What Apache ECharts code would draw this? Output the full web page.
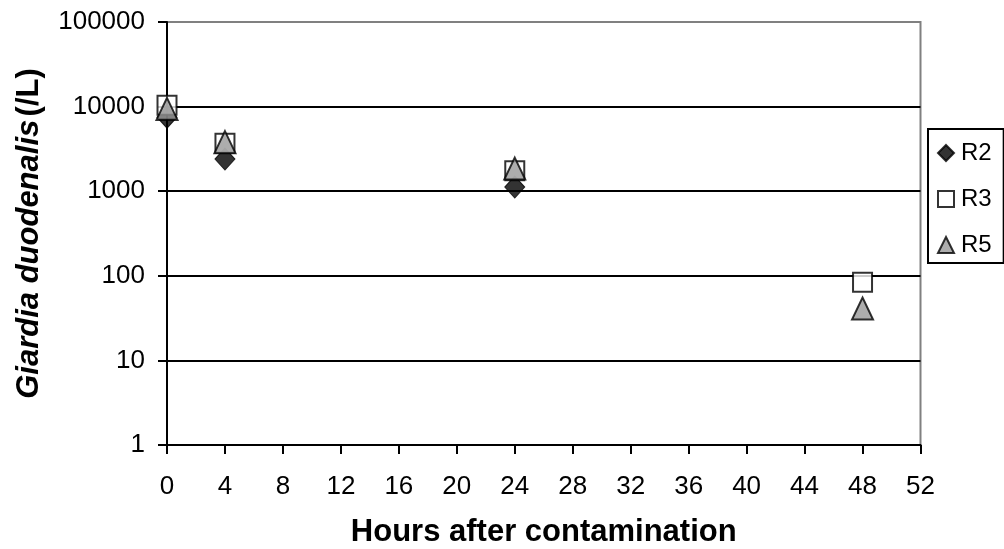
<!DOCTYPE html>
<html>
<head>
<meta charset="utf-8">
<script src="https://cdn.jsdelivr.net/npm/echarts@6/dist/echarts.min.js"></script>
<style>
html,body{margin:0;padding:0;background:#fff;}
#c{width:1004px;height:549px;}
</style>
</head>
<body>
<div id="c"></div>
<script>
// Data (hours after contamination, Giardia duodenalis /L)
var seriesNames = ['R2', 'R3', 'R5'];
var hoursR2 = [0, 4, 24];
var valuesR2 = [7500, 2400, 1120];
var hoursR3 = [0, 4, 24, 48];
var valuesR3 = [10400, 3700, 1750, 84];
var hoursR5 = [0, 4, 24, 48];
var valuesR5 = [9400, 3800, 1850, 41];
var xTicks = [0, 4, 8, 12, 16, 20, 24, 28, 32, 36, 40, 44, 48, 52];
var yTicks = [1, 10, 100, 1000, 10000, 100000];

function pairs(xs, ys) { return xs.map(function (x, i) { return [x, ys[i]]; }); }

var font = 'Liberation Sans, Arial, sans-serif';
var chart = echarts.init(document.getElementById('c'));
chart.setOption({
  animation: false,
  backgroundColor: '#fff',
  grid: {
    left: 167, right: 83.5, top: 22, bottom: 104,
    containLabel: false, outerBoundsMode: 'none',
    show: true, borderColor: '#808080', borderWidth: 2, backgroundColor: 'transparent'
  },
  legend: {
    orient: 'vertical',
    left: 928, top: 129,
    data: seriesNames,
    borderColor: '#000', borderWidth: 2,
    padding: [12, 12, 6, 9],
    itemGap: 22,
    itemWidth: 16, itemHeight: 16,
    textStyle: { fontFamily: font, fontSize: 24, color: '#000', lineHeight: 24, padding: [0, 0, 0, 2] }
  },
  xAxis: {
    type: 'value',
    min: xTicks[0], max: xTicks[xTicks.length - 1], interval: 4,
    name: 'Hours after contamination',
    nameLocation: 'middle', nameGap: 72,
    nameTextStyle: { fontFamily: font, fontSize: 31, fontWeight: 'bold', color: '#000' },
    axisLine: { show: true, lineStyle: { color: '#000', width: 2 } },
    axisTick: { show: true, length: 9, lineStyle: { color: '#000', width: 2 } },
    axisLabel: { fontFamily: font, fontSize: 26, color: '#000', margin: 29 },
    splitLine: { show: false }
  },
  yAxis: {
    type: 'log', logBase: 10,
    min: yTicks[0], max: yTicks[yTicks.length - 1],
    name: '{i|Giardia duodenalis} {n|(/L)}',
    nameLocation: 'middle', nameRotate: 90, nameGap: 122,
    nameTextStyle: {
      rich: {
        i: { fontFamily: font, fontSize: 31, fontWeight: 'bold', fontStyle: 'italic', color: '#000' },
        n: { fontFamily: font, fontSize: 31, fontWeight: 'bold', color: '#000' }
      }
    },
    axisLine: { show: true, lineStyle: { color: '#000', width: 2 } },
    axisTick: { show: true, length: 9, lineStyle: { color: '#000', width: 2 } },
    axisLabel: {
      fontFamily: font, fontSize: 26, color: '#000', margin: 22,
      formatter: function (v) { return String(Math.round(v)); }
    },
    splitLine: {
      show: true,
      lineStyle: { color: ['#000', '#000', '#000', '#000', '#000', '#808080'], width: 2 }
    }
  },
  series: [
    {
      name: seriesNames[0], type: 'scatter', symbol: 'diamond', symbolSize: [20, 22],
      itemStyle: { color: '#000', borderColor: '#000', borderWidth: 1 },
      data: pairs(hoursR2, valuesR2), z: 2
    },
    {
      name: seriesNames[1], type: 'scatter', symbol: 'rect', symbolSize: [19, 19],
      itemStyle: { color: '#fff', borderColor: '#000', borderWidth: 2 },
      data: pairs(hoursR3, valuesR3), z: 3
    },
    {
      name: seriesNames[2], type: 'scatter', symbol: 'triangle', symbolSize: [21, 22],
      itemStyle: { color: '#999999', borderColor: '#000', borderWidth: 2 },
      data: pairs(hoursR5, valuesR5), z: 4
    }
  ]
});
</script>
</body>
</html>
